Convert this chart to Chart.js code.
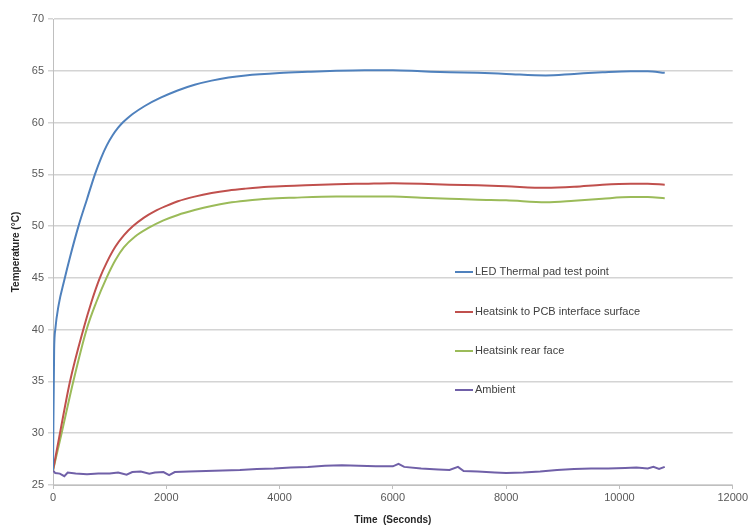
<!DOCTYPE html>
<html>
<head>
<meta charset="utf-8">
<script src="https://cdn.jsdelivr.net/npm/chart.js@4/dist/chart.umd.min.js"></script>
<style>
  html, body { margin: 0; padding: 0; background: #fff; }
  #wrap { width: 750px; height: 526px; position: relative; }
</style>
</head>
<body>
<div id="wrap"><canvas id="grafico"></canvas></div>
<script>
// Datos
const etiquetas = ['LED Thermal pad test point', 'Heatsink to PCB interface surface', 'Heatsink rear face', 'Ambient'];
const colores = ['#4F81BD', '#C0504D', '#9BBB59', '#7060A8'];

const tiempoLed = [0, 20, 40, 100, 200, 300, 450, 600, 740, 850, 950, 1050, 1150, 1240, 1320, 1400, 1620, 1900, 2200, 2500, 2800, 3100, 3400, 4000, 4500, 5000, 5500, 6000, 6500, 7000, 7500, 8000, 8700, 9200, 9700, 10200, 10500, 10800];
const tempLed = [26.4, 38, 40, 42.4, 44.8, 47.0, 50.0, 52.6, 55.0, 56.6, 57.8, 58.75, 59.5, 60.05, 60.45, 60.8, 61.6, 62.4, 63.1, 63.65, 64.05, 64.35, 64.55, 64.78, 64.9, 65.0, 65.05, 65.05, 64.95, 64.85, 64.8, 64.7, 64.55, 64.7, 64.85, 64.95, 64.95, 64.8];

const tiempoInterfaz = [0, 123, 300, 534, 680, 827, 950, 1100, 1250, 1413, 1600, 1800, 2000, 2205, 2500, 2800, 3100, 3400, 3800, 4258, 5000, 5500, 6000, 6500, 7000, 7500, 8000, 8700, 9200, 9700, 10200, 10500, 10800];
const tempInterfaz = [26.4, 30, 35, 40, 42.7, 45, 46.5, 48.0, 49.1, 50.0, 50.8, 51.45, 51.95, 52.4, 52.85, 53.2, 53.45, 53.62, 53.8, 53.9, 54.05, 54.1, 54.15, 54.1, 54.0, 53.95, 53.85, 53.7, 53.8, 54.0, 54.1, 54.1, 54.0];

const tiempoTrasera = [0, 152, 358, 592, 760, 945, 1100, 1250, 1450, 1677, 1950, 2205, 2500, 2800, 3100, 3400, 3800, 4258, 5000, 5500, 6000, 6500, 7000, 7500, 8000, 8700, 9200, 9700, 10200, 10500, 10800];
const tempTrasera = [26.4, 30, 35, 40, 42.6, 45, 46.7, 47.95, 49.0, 49.8, 50.55, 51.08, 51.55, 51.95, 52.25, 52.45, 52.65, 52.75, 52.85, 52.85, 52.85, 52.75, 52.65, 52.55, 52.5, 52.3, 52.45, 52.65, 52.8, 52.8, 52.7];

const tiempoAmb = [0, 40, 120, 200, 260, 400, 600, 800, 1000, 1150, 1300, 1400, 1550, 1700, 1800, 1950, 2050, 2150, 2400, 2700, 3000, 3300, 3600, 3900, 4200, 4500, 4800, 5100, 5400, 5700, 6000, 6100, 6200, 6500, 6800, 7000, 7150, 7250, 7500, 7800, 8000, 8300, 8600, 8900, 9200, 9500, 9800, 10100, 10300, 10500, 10600, 10700, 10800];
const tempAmb = [26.4, 26.15, 26.1, 25.85, 26.2, 26.1, 26.05, 26.1, 26.1, 26.2, 26.0, 26.25, 26.3, 26.1, 26.2, 26.25, 25.95, 26.25, 26.3, 26.35, 26.4, 26.45, 26.55, 26.6, 26.7, 26.75, 26.85, 26.9, 26.85, 26.8, 26.8, 27.05, 26.75, 26.6, 26.5, 26.45, 26.75, 26.35, 26.3, 26.2, 26.15, 26.2, 26.3, 26.45, 26.55, 26.6, 26.6, 26.65, 26.7, 26.6, 26.75, 26.55, 26.75];

const ticksX = [0, 2000, 4000, 6000, 8000, 10000, 12000];

const aPuntos = (xs, ys) => xs.map((x, i) => ({ x: x, y: ys[i] }));

// Leyenda dentro del area del grafico, como en Excel
const leyendaInterna = {
    id: 'leyendaInterna',
    afterDatasetsDraw(chart) {
        const ctx = chart.ctx;
        const filas = [272, 312, 351, 390];
        ctx.save();
        ctx.font = '11px "Liberation Sans", Arial, sans-serif';
        ctx.textBaseline = 'middle';
        chart.data.datasets.forEach((ds, i) => {
            ctx.strokeStyle = ds.borderColor;
            ctx.lineWidth = 2;
            ctx.beginPath();
            ctx.moveTo(455, filas[i]);
            ctx.lineTo(473, filas[i]);
            ctx.stroke();
            ctx.fillStyle = '#404040';
            ctx.fillText(ds.label, 475, filas[i]);
        });
        ctx.restore();
    }
};

const serie = (i, puntos, suave) => ({
    label: etiquetas[i],
    data: puntos,
    borderColor: colores[i],
    backgroundColor: colores[i],
    borderWidth: 2,
    pointRadius: 0,
    fill: false,
    cubicInterpolationMode: suave ? 'monotone' : 'default',
    tension: 0
});

new Chart(document.getElementById('grafico').getContext('2d'), {
    type: 'line',
    data: {
        datasets: [
            serie(0, aPuntos(tiempoLed, tempLed), true),
            serie(1, aPuntos(tiempoInterfaz, tempInterfaz), true),
            serie(2, aPuntos(tiempoTrasera, tempTrasera), true),
            serie(3, aPuntos(tiempoAmb, tempAmb), false)
        ]
    },
    options: {
        responsive: true,
        maintainAspectRatio: false,
        animation: false,
        layout: { padding: { top: 19, right: 15, left: 0, bottom: 0 } },
        plugins: {
            legend: { display: false },
            tooltip: { enabled: false }
        },
        scales: {
            x: {
                type: 'linear',
                min: 0,
                max: 12000,
                afterBuildTicks: (escala) => { escala.ticks = ticksX.map(v => ({ value: v })); },
                ticks: {
                    color: '#595959',
                    font: { family: '"Liberation Sans", Arial, sans-serif', size: 11 },
                    maxRotation: 0,
                    padding: 2,
                    callback: (valor) => String(valor)
                },
                grid: { drawOnChartArea: false, drawTicks: true, tickLength: 4, color: '#bfbfbf' },
                border: { display: true, color: '#bfbfbf', width: 1 },
                title: {
                    display: true,
                    text: 'Time  (Seconds)',
                    color: '#262626',
                    font: { family: '"Liberation Sans", Arial, sans-serif', size: 10, weight: 'bold' },
                    padding: { top: 2, bottom: 0 }
                },
                afterFit: (escala) => { escala.height = 41; }
            },
            y: {
                min: 25,
                max: 70,
                ticks: {
                    stepSize: 5,
                    color: '#595959',
                    font: { family: '"Liberation Sans", Arial, sans-serif', size: 11 },
                    padding: 4
                },
                grid: { color: '#d4d4d4', lineWidth: 1.5, tickLength: 5 },
                border: { display: true, color: '#bfbfbf', width: 1 },
                title: {
                    display: true,
                    text: 'Temperature (°C)',
                    color: '#262626',
                    font: { family: '"Liberation Sans", Arial, sans-serif', size: 10, weight: 'bold' },
                    padding: { top: 10, bottom: 4 }
                },
                afterFit: (escala) => { escala.width = 53; }
            }
        }
    },
    plugins: [leyendaInterna]
});
</script>
</body>
</html>
